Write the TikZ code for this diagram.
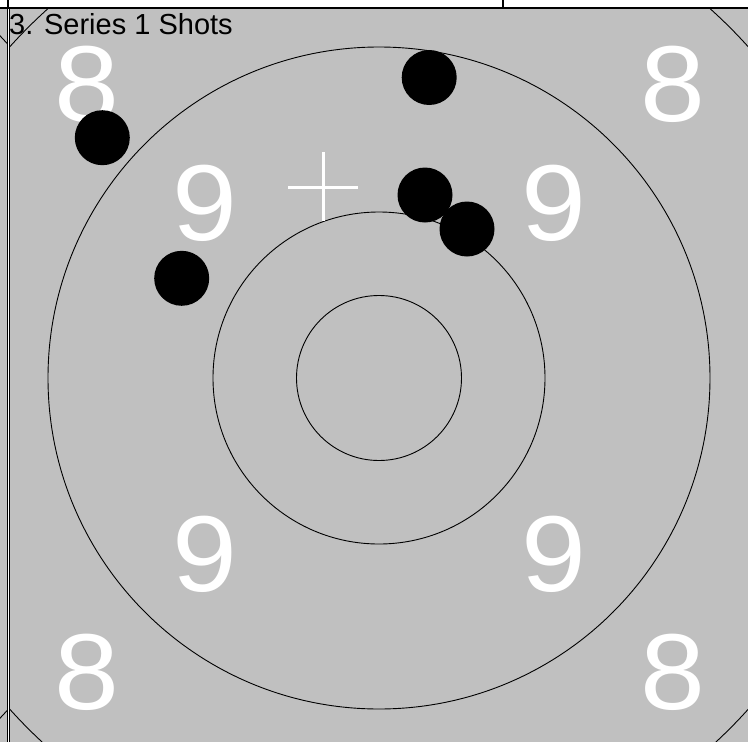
\documentclass[tikz,border=0pt]{standalone}
\usepackage{fontspec}
\setmainfont{Liberation Sans}
\definecolor{tgray}{RGB}{192,192,192}
\tikzset{
  ring/.style={draw=black, line width=0.9pt},
  score/.style={text=white, inner sep=0pt, xscale=1.08, font=\fontsize{108}{108}\selectfont},
  shot/.style={circle, fill=black, minimum size=55pt, inner sep=0pt},
  frameline/.style={draw=black, line width=1.3pt},
  mpi/.style={draw=white, line width=3pt}
}
\begin{document}
\begin{tikzpicture}[x=1pt,y=-1pt]
\useasboundingbox (0,0) rectangle (748,742);
\fill[white] (0,0) rectangle (748,742);
% neighbouring panel on the left
\begin{scope}
  \clip (0,8) rectangle (7.7,742);
  \fill[tgray] (0,8) rectangle (7.7,742);
  \coordinate (lc) at (-360,377);
  \draw[ring] (lc) circle[radius=496pt];
\end{scope}
% this panel
\begin{scope}
  \clip (9.8,8) rectangle (748,742);
  \fill[tgray] (9.8,8) rectangle (748,742);
  \coordinate (c) at (379,378);
  \draw[ring] (c) circle[radius=496pt];
  \draw[ring] (c) circle[radius=331pt];
  \draw[ring] (c) circle[radius=166pt];
  \draw[ring] (c) circle[radius=82.5pt];
  % score labels
  \node[score] (n9a) at (204.5,203) {9};
  \node[score] (n9b) at (553.5,203) {9};
  \node[score] (n9c) at (204.5,554) {9};
  \node[score] (n9d) at (553.5,554) {9};
  \node[score] (n8a) at (86.5,84.5) {8};
  \node[score] (n8b) at (672.5,84.5) {8};
  \node[score] (n8c) at (86.5,672) {8};
  \node[score] (n8d) at (672.5,672) {8};
  % shots
  \node[shot] (s1) at (429.2,77.5) {};
  \node[shot] (s2) at (102.3,137.7) {};
  \node[shot] (s3) at (181.7,278.3) {};
  \node[shot] (s4) at (425,195) {};
  \node[shot] (s5) at (467,229) {};
  % mean point of impact cross
  \coordinate (m) at (323,187);
  \draw[mpi] ([xshift=-35pt]m) -- ([xshift=35pt]m);
  \draw[mpi] ([yshift=35pt]m) -- ([yshift=-34pt]m);
\end{scope}
% frame lines
\coordinate (hl) at (0,8);
\coordinate (hr) at (748,8);
\draw[frameline] (hl) -- (hr);
\coordinate (v1t) at (8,0);
\coordinate (v1b) at (8,8);
\draw[frameline] (v1t) -- (v1b);
\coordinate (v2t) at (503,0);
\coordinate (v2b) at (503,8);
\draw[frameline] (v2t) -- (v2b);
\coordinate (lbt) at (7.7,8);
\coordinate (lbb) at (7.7,742);
\draw[draw=black, line width=0.9pt] (lbt) -- (lbb);
\coordinate (rbt) at (9.9,8);
\coordinate (rbb) at (9.9,742);
\draw[draw=black, line width=0.9pt] (rbt) -- (rbb);
% title
\node[anchor=base west, inner sep=0pt, font=\fontsize{29}{29}\selectfont] (title) at (9,34.5) {3. Series 1 Shots};
\end{tikzpicture}
\end{document}
